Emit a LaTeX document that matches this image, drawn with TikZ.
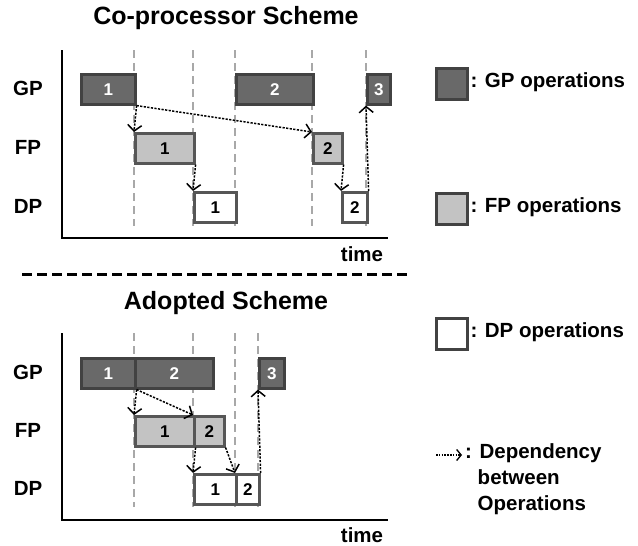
\documentclass[tikz,border=0pt]{standalone}
\usepackage{fontspec}
\setmainfont{Liberation Sans}
\usetikzlibrary{arrows.meta}
\definecolor{gpfill}{HTML}{696969}
\definecolor{gpline}{HTML}{424242}
\definecolor{fpfill}{HTML}{C3C3C3}
\definecolor{opline}{HTML}{565656}
\definecolor{gridgray}{HTML}{A8A8A8}
\begin{document}
\begin{tikzpicture}[x=1pt,y=-1pt,
  big/.style={font=\fontsize{20.5}{26}\selectfont\bfseries},
  title/.style={font=\fontsize{25}{30}\selectfont\bfseries},
  op/.style={draw=opline, line width=2.6pt, minimum height=30pt, minimum width=#1,
    inner sep=0pt, anchor=north west, font=\fontsize{17}{19}\selectfont\bfseries},
  gpop/.style={op=#1, fill=gpfill, draw=gpline, text=white},
  fpop/.style={op=#1, fill=fpfill},
  dpop/.style={op=#1, fill=white},
  legbox/.style={draw=gpline, line width=2.6pt, minimum width=31pt, minimum height=31pt,
    inner sep=0pt, anchor=north west},
  axis/.style={line width=2.4pt, black},
  tick/.style={gridgray, line width=1.4pt, dash pattern=on 8pt off 5pt},
  dep/.style={black, line width=1.5pt, dash pattern=on 2.2pt off 1.4pt,
    -{Straight Barb[length=6pt,width=14pt,line width=1.5pt]}},
  rowlabel/.style={big, anchor=center}]
\useasboundingbox (0,0) rectangle (638,546);

% ---------- upper chart ----------
\node[title] (t1) at (226,18) {Co-processor Scheme};
\foreach \xx in {134,193,235,312,366} \draw[tick] (\xx,50) -- (\xx,226);
\coordinate (ay1) at (62,50);
\coordinate (o1) at (62,238);
\coordinate (ax1) at (388,238);
\draw[axis] (ay1) -- (o1) -- (ax1);
\node[big] (time1) at (362,254) {time};
\node[rowlabel] (gp1l) at (28,88) {GP};
\node[rowlabel] (fp1l) at (28,147) {FP};
\node[rowlabel] (dp1l) at (28,206) {DP};

\node[gpop=54pt] (ag1) at (80,73) {1};
\node[gpop=77pt] (ag2) at (235,73) {2};
\node[gpop=23pt] (ag3) at (366,73) {3};
\node[fpop=59pt] (af1) at (134,132) {1};
\node[fpop=29pt] (af2) at (312,132) {2};
\node[dpop=42pt] (ad1) at (193,191) {1};
\node[dpop=25pt] (ad2) at (341,191) {2};

\draw[dep] (ag1.south east) -- (af1.north west);
\draw[dep] (ag1.south east) -- (af2.north west);
\draw[dep] (af1.south east) -- (ad1.north west);
\draw[dep] (af2.south east) -- (ad2.north west);
\draw[dep] (ad2.north east) -- (ag3.south west);

% ---------- separator ----------
\coordinate (s1) at (22,274);
\coordinate (s2) at (407,274);
\draw[line width=3pt, dash pattern=on 10pt off 5pt] (s1) -- (s2);

% ---------- lower chart ----------
\node[title] (t2) at (226,303) {Adopted Scheme};
\foreach \xx in {134,193,235,258} \draw[tick] (\xx,333) -- (\xx,507);
\coordinate (ay2) at (62,333);
\coordinate (o2) at (62,520);
\coordinate (ax2) at (388,520);
\draw[axis] (ay2) -- (o2) -- (ax2);
\node[big] (time2) at (362,535) {time};
\node[rowlabel] (gp2l) at (28,372) {GP};
\node[rowlabel] (fp2l) at (28,430) {FP};
\node[rowlabel] (dp2l) at (28,488) {DP};

\node[gpop=54pt] (bg1) at (80,357) {1};
\node[gpop=78pt] (bg2) at (134,357) {2};
\node[gpop=25pt] (bg3) at (258,357) {3};
\node[fpop=59pt] (bf1) at (134,415) {1};
\node[fpop=30pt] (bf2) at (193,415) {2};
\node[dpop=42pt] (bd1) at (193,473) {1};
\node[dpop=23pt] (bd2) at (235,473) {2};

\draw[dep] (bg1.south east) -- (bf1.north west);
\draw[dep] (bg1.south east) -- (bf2.north west);
\draw[dep] (bf1.south east) -- (bd1.north west);
\draw[dep] (bf2.south east) -- (bd2.north west);
\draw[dep] (bd2.north east) -- (bg3.south west);

% ---------- legend ----------
\node[legbox, fill=gpfill] (lg) at (435,67) {};
\node[big, anchor=west] (lgt) at (467,82.5) {: GP operations};
\node[legbox, fill=fpfill] (lf) at (435,192) {};
\node[big, anchor=west] (lft) at (467,207.5) {: FP operations};
\node[legbox, fill=white] (ld) at (435,317) {};
\node[big, anchor=west] (ldt) at (467,332.5) {: DP operations};
\coordinate (la1) at (436,455);
\coordinate (la2) at (462,455);
\draw[black, line width=1.2pt, dash pattern=on 1.6pt off 1.2pt,
  -{Straight Barb[length=4.5pt,width=11pt,line width=1.3pt]}] (la1) -- (la2);
\node[big, anchor=north west, align=left, inner sep=0pt] (lat) at (465,443)
  {: Dependency\\\hphantom{:\ }between\\\hphantom{:\ }Operations};
\end{tikzpicture}
\end{document}
